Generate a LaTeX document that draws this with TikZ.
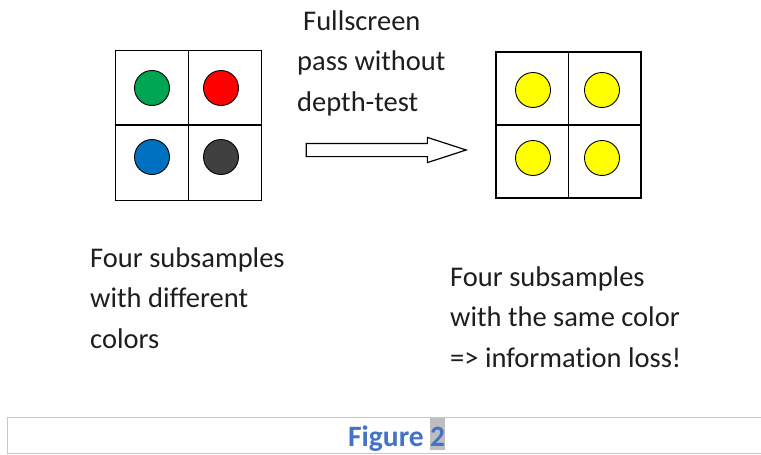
\documentclass[tikz,border=0pt]{standalone}
\usepackage{fontspec}
\setmainfont{Carlito}[Ligatures=NoCommon]
\usetikzlibrary{shapes.arrows}

\definecolor{txtgray}{RGB}{30,30,30}
\definecolor{ssgreen}{RGB}{0,166,81}
\definecolor{ssred}{RGB}{255,0,0}
\definecolor{ssblue}{RGB}{0,112,192}
\definecolor{ssdark}{RGB}{64,64,64}
\definecolor{ssyellow}{RGB}{255,255,0}
\definecolor{capblue}{RGB}{68,114,196}
\definecolor{capgray}{RGB}{200,200,200}
\definecolor{hlgray}{RGB}{190,190,190}

\begin{document}
\begin{tikzpicture}[x=1pt,y=-1pt,
  cell/.style={draw, line width=1.4pt, minimum width=73pt, minimum height=75pt, inner sep=0},
  rcell/.style={cell, minimum width=72.5pt, minimum height=73pt},
  sample/.style={circle, draw, line width=0.9pt, minimum size=35pt, inner sep=0},
  label/.style={inner sep=0, anchor=base west, align=left, text=txtgray,
    font=\fontsize{28.5}{40.5}\selectfont},
  caption/.style={inner sep=0, text=capblue, font=\fontsize{29.5}{30}\selectfont\bfseries}]
\useasboundingbox[fill=white] (0,0) rectangle (761,455);

% left grid, four different colors
\node[cell] (lg1) at (151.75,87.75){};
\node[cell] (lg2) at (225.25,87.75){};
\node[cell] (lg3) at (151.75,163.25){};
\node[cell] (lg4) at (225.25,163.25){};
\draw[line width=2.6pt] (lg3.north west) -- (lg4.north east);
\node[sample, fill=ssgreen] (s1) at (152,88){};
\node[sample, fill=ssred] (s2) at (221,88){};
\node[sample, fill=ssblue] (s3) at (152,157){};
\node[sample, fill=ssdark] (s4) at (221,157){};

% right grid, same color
\node[rcell] (rg1) at (532.25,88.5){};
\node[rcell] (rg2) at (604.75,88.5){};
\node[rcell] (rg3) at (532.25,161.5){};
\node[rcell] (rg4) at (604.75,161.5){};
\node[sample, fill=ssyellow] (y1) at (533,90){};
\node[sample, fill=ssyellow] (y2) at (602,90){};
\node[sample, fill=ssyellow] (y3) at (533,158){};
\node[sample, fill=ssyellow] (y4) at (602,158){};

% fullscreen pass
\node[single arrow, draw, line width=1.2pt, fill=white, inner xsep=0, inner ysep=6pt,
  minimum height=160pt, single arrow head extend=6pt, single arrow tip angle=36]
  (pass) at (376,150){};
\node[label] (passtxt) at (297,111){\hspace*{6pt}Fullscreen\\pass without\\depth-test};

\node[label] (lefttxt) at (90,348){Four subsamples\\with different\\colors};
\node[label] (righttxt) at (450,367){Four subsamples\\with the same color\\=> information loss!};

% caption
\node[draw=capgray, line width=1.4pt, minimum width=764pt, minimum height=36pt,
  inner sep=0, anchor=north west] (capbox) at (7,417){};
\node[caption, anchor=base east] (figword) at (424,446){Figure};
\node[caption, fill=hlgray, anchor=base west, text height=28pt, text depth=4pt]
  (fignum) at (430,446){2};
\end{tikzpicture}
\end{document}
